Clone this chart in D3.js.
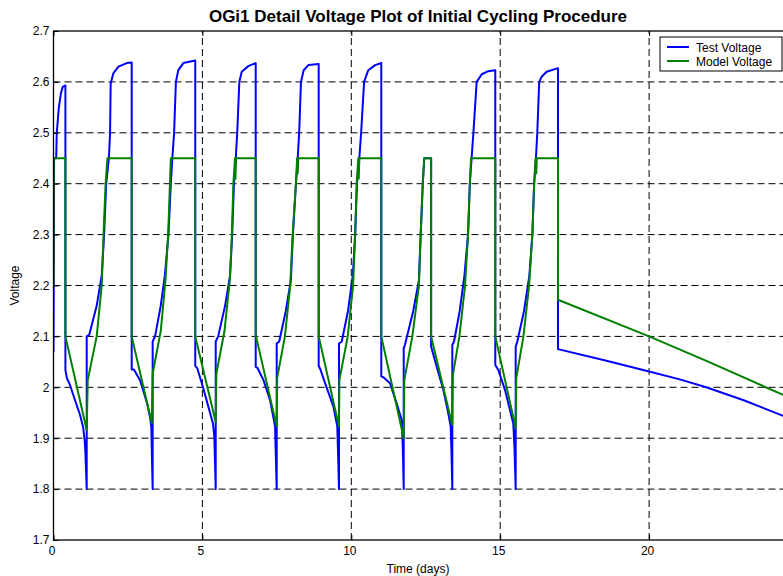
<!DOCTYPE html>
<html>
<head>
<meta charset="utf-8">
<script src="https://cdn.jsdelivr.net/npm/d3@7"></script>
<style>
  body { margin: 0; background: #fff; }
  svg { display: block; font-family: "Liberation Sans", Arial, Helvetica, sans-serif; }
</style>
</head>
<body>
<div id="chart"></div>
<script>
// values: [time (days), voltage]
const testVoltage = [
  [0, 2.07], [0.02, 2.45], [0.09, 2.45], [0.11, 2.50], [0.18, 2.55], [0.25, 2.578], [0.31, 2.59], [0.40, 2.593],
  [0.40, 2.034], [0.45, 2.018], [0.55, 2.005], [0.72, 1.975], [0.89, 1.946], [1.0, 1.92], [1.05, 1.893], [1.07, 1.873], [1.115, 1.8],
  [1.115, 2.10], [1.20, 2.103], [1.45, 2.16], [1.62, 2.22], [1.70, 2.30], [1.77, 2.40], [1.86, 2.45], [1.90, 2.50], [1.92, 2.597], [2.01, 2.617], [2.18, 2.63], [2.46, 2.637], [2.626, 2.638],
  [2.626, 2.035], [2.70, 2.035], [2.905, 2.014], [3.14, 1.969], [3.24, 1.942], [3.285, 1.923], [3.31, 1.85], [3.33, 1.8],
  [3.33, 2.09], [3.41, 2.10], [3.60, 2.16], [3.74, 2.22], [3.86, 2.30], [3.94, 2.40], [3.99, 2.45], [4.05, 2.50], [4.11, 2.60], [4.19, 2.623], [4.36, 2.637], [4.76, 2.642],
  [4.76, 2.042], [4.83, 2.037], [5.02, 2.0], [5.20, 1.962], [5.355, 1.929], [5.40, 1.903], [5.447, 1.8],
  [5.447, 2.09], [5.53, 2.10], [5.76, 2.16], [5.93, 2.22], [6.0, 2.30], [6.06, 2.40], [6.12, 2.45], [6.17, 2.50], [6.24, 2.60], [6.32, 2.62], [6.54, 2.631], [6.79, 2.637],
  [6.79, 2.04], [6.85, 2.038], [7.05, 2.014], [7.27, 1.975], [7.38, 1.942], [7.44, 1.923], [7.495, 1.8],
  [7.495, 2.086], [7.58, 2.09], [7.80, 2.15], [7.97, 2.21], [8.04, 2.30], [8.14, 2.40], [8.20, 2.45], [8.25, 2.50], [8.31, 2.60], [8.40, 2.623], [8.56, 2.633], [8.905, 2.635],
  [8.905, 2.042], [8.95, 2.037], [9.17, 2.0], [9.40, 1.962], [9.53, 1.923], [9.56, 1.86], [9.587, 1.8],
  [9.587, 2.086], [9.68, 2.09], [9.89, 2.15], [10.05, 2.22], [10.13, 2.30], [10.19, 2.40], [10.27, 2.45], [10.33, 2.50], [10.43, 2.60], [10.57, 2.623], [10.80, 2.633], [11.007, 2.637],
  [11.007, 2.021], [11.07, 2.02], [11.30, 2.008], [11.52, 1.969], [11.69, 1.936], [11.73, 1.88], [11.76, 1.8],
  [11.76, 2.077], [11.80, 2.083], [12.08, 2.15], [12.27, 2.21], [12.33, 2.30], [12.40, 2.40], [12.45, 2.45], [12.68, 2.45],
  [12.68, 2.08], [12.87, 2.04], [13.09, 1.995], [13.257, 1.949], [13.338, 1.923], [13.36, 1.88], [13.392, 1.8],
  [13.392, 2.083], [13.45, 2.09], [13.64, 2.15], [13.80, 2.22], [13.92, 2.30], [13.98, 2.40], [14.04, 2.45], [14.10, 2.50], [14.21, 2.60], [14.38, 2.615], [14.60, 2.621], [14.835, 2.623],
  [14.835, 2.044], [14.936, 2.034], [15.16, 1.995], [15.33, 1.955], [15.44, 1.929], [15.48, 1.88], [15.52, 1.8],
  [15.52, 2.08], [15.575, 2.09], [15.80, 2.15], [15.98, 2.22], [16.08, 2.30], [16.14, 2.40], [16.20, 2.45], [16.245, 2.50], [16.31, 2.60], [16.39, 2.61], [16.56, 2.62], [16.94, 2.627],
  [16.94, 2.075], [18.5, 2.053], [20.0, 2.031], [21.0, 2.016], [21.92, 2.0], [23.2, 1.974], [24.5, 1.944], [25, 1.932]
];

const modelVoltage = [
  [0, 2.20], [0.01, 2.45], [0.40, 2.45],
  [0.40, 2.10], [1.115, 1.916],
  [1.15, 2.014], [1.45, 2.10], [1.62, 2.20], [1.68, 2.30], [1.75, 2.40], [1.81, 2.45], [2.626, 2.45],
  [2.626, 2.10], [3.30, 1.93],
  [3.33, 2.027], [3.60, 2.11], [3.76, 2.21], [3.85, 2.30], [3.91, 2.40], [3.94, 2.45], [4.76, 2.45],
  [4.76, 2.10], [5.447, 1.932],
  [5.47, 2.027], [5.74, 2.11], [5.92, 2.21], [5.99, 2.30], [6.04, 2.40], [6.095, 2.45], [6.11, 2.41], [6.13, 2.45], [6.79, 2.45],
  [6.79, 2.103], [7.495, 1.923],
  [7.51, 2.018], [7.77, 2.10], [7.95, 2.20], [8.03, 2.30], [8.14, 2.40], [8.18, 2.45], [8.20, 2.42], [8.22, 2.45], [8.905, 2.45],
  [8.905, 2.10], [9.587, 1.923],
  [9.60, 2.014], [9.88, 2.10], [10.06, 2.20], [10.13, 2.30], [10.18, 2.40], [10.235, 2.45], [10.25, 2.41], [10.27, 2.45], [11.007, 2.45],
  [11.007, 2.10], [11.76, 1.90],
  [11.78, 2.014], [12.05, 2.10], [12.27, 2.20], [12.33, 2.30], [12.40, 2.40], [12.45, 2.45], [12.68, 2.45],
  [12.68, 2.10], [13.39, 1.926],
  [13.41, 2.024], [13.63, 2.10], [13.82, 2.20], [13.92, 2.30], [13.98, 2.40], [14.02, 2.45], [14.835, 2.45],
  [14.835, 2.10], [15.52, 1.92],
  [15.54, 2.018], [15.78, 2.10], [15.97, 2.20], [16.08, 2.30], [16.14, 2.40], [16.19, 2.45], [16.21, 2.42], [16.23, 2.45], [16.94, 2.45],
  [16.94, 2.172], [20.0, 2.10], [22.0, 2.05], [24.5, 1.985], [25, 1.972]
];

const xTicks = [0, 5, 10, 15, 20, 25];
const xTickLabels = ["0", "5", "10", "15", "20", ""]; // 25 falls outside the picture
const yTicks = [1.7, 1.8, 1.9, 2.0, 2.1, 2.2, 2.3, 2.4, 2.5, 2.6, 2.7];
const yTickLabels = ["1.7", "1.8", "1.9", "2", "2.1", "2.2", "2.3", "2.4", "2.5", "2.6", "2.7"];
const seriesNames = ["Test Voltage", "Model Voltage"];
const seriesColors = ["#0000ff", "#008000"];

const width = 783, height = 576;
const margin = {top: 31, left: 53.5, bottom: 36};
const plotRight = 798; // axes run a little past the picture edge

const svg = d3.select("#chart").append("svg")
  .attr("width", width)
  .attr("height", height);

const x = d3.scaleLinear().domain([0, 25]).range([margin.left, plotRight]);
const y = d3.scaleLinear().domain([1.7, 2.7]).range([height - margin.bottom, margin.top]);

svg.append("clipPath").attr("id", "plotClip")
  .append("rect")
  .attr("x", x(0)).attr("y", y(2.7))
  .attr("width", x(25) - x(0)).attr("height", y(1.7) - y(2.7));

// grid
const grid = svg.append("g").attr("class", "grid");
grid.selectAll(".hgrid")
  .data(yTicks.slice(1, -1))
  .enter().append("line")
  .attr("x1", x(0)).attr("x2", x(25))
  .attr("y1", d => y(d)).attr("y2", d => y(d))
  .attr("stroke", "#000")
  .attr("stroke-width", 1)
  .attr("stroke-dasharray", "7,4");
grid.selectAll(".vgrid")
  .data(xTicks.slice(1, -1))
  .enter().append("line")
  .attr("y1", y(1.7)).attr("y2", y(2.7))
  .attr("x1", d => x(d)).attr("x2", d => x(d))
  .attr("stroke", "#000")
  .attr("stroke-width", 1)
  .attr("stroke-dasharray", "7,4");

// data lines
const line = d3.line()
  .x(d => x(d[0]))
  .y(d => y(d[1]));

const lines = svg.append("g").attr("clip-path", "url(#plotClip)");
[testVoltage, modelVoltage].forEach((s, i) => {
  lines.append("path")
    .datum(s)
    .attr("d", line)
    .attr("fill", "none")
    .attr("stroke", seriesColors[i])
    .attr("stroke-width", 2)
    .attr("stroke-linejoin", "round");
});

// axes, ticks pointing in
const yAxis = svg.append("g")
  .attr("transform", "translate(" + x(0) + ",0)")
  .call(d3.axisLeft(y).tickValues(yTicks).tickSize(-5).tickPadding(4)
    .tickFormat((d, i) => yTickLabels[i]));
const xAxis = svg.append("g")
  .attr("transform", "translate(0," + y(1.7) + ")")
  .call(d3.axisBottom(x).tickValues(xTicks).tickSize(-5).tickPadding(6)
    .tickFormat((d, i) => xTickLabels[i]));
const xTop = svg.append("g")
  .attr("transform", "translate(0," + y(2.7) + ")")
  .call(d3.axisTop(x).tickValues(xTicks).tickSize(-5).tickFormat(""));

[yAxis, xAxis, xTop].forEach(a => {
  a.select(".domain").remove();
  a.selectAll("line").attr("stroke", "#000");
  a.selectAll("text")
    .attr("fill", "#000")
    .style("font-size", "12px")
    .style("font-family", "'Liberation Sans', Arial, sans-serif");
});
xAxis.selectAll("text").attr("dx", -2);

// box
svg.append("rect")
  .attr("x", x(0)).attr("y", y(2.7))
  .attr("width", x(25) - x(0)).attr("height", y(1.7) - y(2.7))
  .attr("fill", "none")
  .attr("stroke", "#000")
  .attr("stroke-width", 1.3);

// title and labels
svg.append("text")
  .attr("x", 418).attr("y", 22)
  .attr("text-anchor", "middle")
  .style("font-size", "17px")
  .style("font-weight", "bold")
  .text("OGi1 Detail Voltage Plot of Initial Cycling Procedure");

svg.append("text")
  .attr("x", 418).attr("y", 573)
  .attr("text-anchor", "middle")
  .style("font-size", "12px")
  .text("Time (days)");

svg.append("text")
  .attr("transform", "translate(19," + ((y(1.7) + y(2.7)) / 2) + ") rotate(-90)")
  .attr("text-anchor", "middle")
  .style("font-size", "12px")
  .text("Voltage");

// legend
const legend = svg.append("g").attr("transform", "translate(660,37)");
legend.append("rect")
  .attr("width", 122).attr("height", 34)
  .attr("fill", "#fff")
  .attr("stroke", "#000")
  .attr("stroke-width", 1);
const items = legend.selectAll(".item")
  .data(seriesNames)
  .enter().append("g")
  .attr("transform", (d, i) => "translate(0," + (10 + i * 14) + ")");
items.append("line")
  .attr("x1", 7).attr("x2", 29)
  .attr("y1", 0).attr("y2", 0)
  .attr("stroke", (d, i) => seriesColors[i])
  .attr("stroke-width", 2);
items.append("text")
  .attr("x", 36).attr("y", 4.5)
  .style("font-size", "12px")
  .text(d => d);
</script>
</body>
</html>
